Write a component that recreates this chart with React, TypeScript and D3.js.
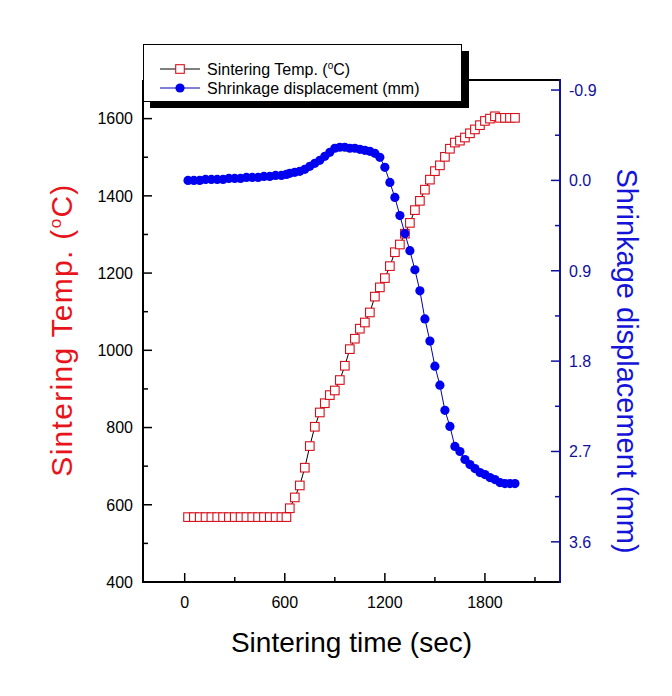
import React from "react";
import * as d3 from "d3";

// ---- data ----
const tempTime = [20, 55, 90, 125, 160, 195, 230, 265, 300, 335, 370, 405, 440, 475, 510, 545, 580, 610,
  630, 660, 690, 720, 750, 780, 810, 840, 870, 900, 930, 960, 990, 1020, 1050, 1080, 1110, 1140, 1170, 1200,
  1230, 1260, 1290, 1320, 1350, 1380, 1410, 1440, 1470, 1500, 1530, 1560, 1590, 1620, 1650, 1680, 1710, 1740,
  1770, 1800, 1830, 1860, 1890, 1920, 1950, 1980];
const tempValue = [568, 568, 568, 568, 568, 568, 568, 568, 568, 568, 568, 568, 568, 568, 568, 568, 568, 568,
  591, 619, 650, 696, 752, 802, 839, 863, 884, 896, 923, 960, 1003, 1030, 1056, 1072, 1098, 1139, 1163, 1187,
  1218, 1254, 1274, 1302, 1330, 1363, 1387, 1416, 1442, 1464, 1479, 1501, 1522, 1538, 1543, 1551, 1562, 1572,
  1583, 1594, 1600, 1606, 1602, 1602, 1602, 1602];

const shrinkTime = tempTime;
const shrinkValue = [0.0, 0.0, 0.0, -0.01, -0.01, -0.01, -0.01, -0.02, -0.02, -0.02, -0.03, -0.03, -0.03, -0.04, -0.04, -0.05, -0.05, -0.06,
  -0.07, -0.08, -0.09, -0.11, -0.14, -0.17, -0.2, -0.24, -0.28, -0.32, -0.33, -0.33, -0.32, -0.32, -0.31, -0.3, -0.29, -0.27, -0.23, -0.13,
  0.02, 0.17, 0.35, 0.53, 0.7, 0.89, 1.1, 1.38, 1.6, 1.85, 2.04, 2.29, 2.45, 2.65, 2.7, 2.78, 2.83, 2.87,
  2.91, 2.93, 2.96, 2.98, 3.01, 3.02, 3.02, 3.02];

const xMajor = [0, 600, 1200, 1800];
const xMinor = [300, 900, 1500, 2100];
const yLeftMajor = [400, 600, 800, 1000, 1200, 1400, 1600];
const yLeftMinor = [500, 700, 900, 1100, 1300, 1500];
const yRightMajor = [-0.9, 0.0, 0.9, 1.8, 2.7, 3.6];
const yRightMinor = [-0.45, 0.45, 1.35, 2.25, 3.15];

const FONT = "'Liberation Sans', Arial, sans-serif";

export default function App() {
  const left = 143, right = 560, top = 80, bottom = 582;
  const x = d3.scaleLinear().domain([-250, 2250]).range([left, right]);
  const yL = d3.scaleLinear().domain([400, 1700]).range([bottom, top]);
  const yR = d3.scaleLinear().domain([-1.0, 4.0]).range([top, bottom]);

  const tempPts = tempTime.map((t, i) => [x(t), yL(tempValue[i])] as [number, number]);
  const shrinkPts = shrinkTime.map((t, i) => [x(t), yR(shrinkValue[i])] as [number, number]);
  const line = d3.line();

  const axisBlue = "#10109a";
  const sq = 8.6;

  return (
    <svg width={672} height={696} style={{ position: "absolute", left: 0, top: 0, background: "#fff" }} fontFamily={FONT}>
      <rect x={0} y={0} width={672} height={696} fill="#fff" />
      {/* temperature series */}
      <path d={line(tempPts) || ""} fill="none" stroke="#000" strokeWidth={1} />
      {tempPts.map((p, i) => (
        <rect key={"t" + i} x={p[0] - sq / 2} y={p[1] - sq / 2} width={sq} height={sq} fill="#fff" stroke="#d8101c" strokeWidth={1.1} />
      ))}
      {/* shrinkage series */}
      <path d={line(shrinkPts) || ""} fill="none" stroke="#0000b0" strokeWidth={1} />
      {shrinkPts.map((p, i) => (
        <circle key={"s" + i} cx={p[0]} cy={p[1]} r={4.6} fill="#0000f0" />
      ))}

      {/* axes frame */}
      <line x1={left} x2={right} y1={top} y2={top} stroke="#000" strokeWidth={2} />
      <line x1={left} x2={right} y1={bottom} y2={bottom} stroke="#000" strokeWidth={2} />
      <line x1={left} x2={left} y1={top} y2={bottom + 1} stroke="#000" strokeWidth={2} />
      <line x1={right} x2={right} y1={top - 1} y2={bottom + 1} stroke={axisBlue} strokeWidth={2} />

      {/* bottom ticks */}
      {xMajor.map((v) => (
        <g key={"xm" + v}>
          <line x1={x(v)} x2={x(v)} y1={bottom} y2={bottom - 9} stroke="#000" strokeWidth={1.5} />
          <text x={x(v)} y={608} textAnchor="middle" fontSize={16} fill="#000">{v}</text>
        </g>
      ))}
      {xMinor.map((v) => (
        <line key={"xn" + v} x1={x(v)} x2={x(v)} y1={bottom} y2={bottom - 5} stroke="#000" strokeWidth={1.5} />
      ))}

      {/* left ticks */}
      {yLeftMajor.map((v) => (
        <g key={"lm" + v}>
          <line x1={left} x2={left + 9} y1={yL(v)} y2={yL(v)} stroke="#000" strokeWidth={1.5} />
          <text x={133} y={yL(v)} dy="0.36em" textAnchor="end" fontSize={16} fill="#000">{v}</text>
        </g>
      ))}
      {yLeftMinor.map((v) => (
        <line key={"ln" + v} x1={left} x2={left + 5} y1={yL(v)} y2={yL(v)} stroke="#000" strokeWidth={1.5} />
      ))}

      {/* right ticks */}
      {yRightMajor.map((v) => (
        <g key={"rm" + v}>
          <line x1={right} x2={right - 9} y1={yR(v)} y2={yR(v)} stroke={axisBlue} strokeWidth={1.5} />
          <text x={569} y={yR(v)} dy="0.36em" textAnchor="start" fontSize={16} fill={axisBlue}>{v.toFixed(1)}</text>
        </g>
      ))}
      {yRightMinor.map((v) => (
        <line key={"rn" + v} x1={right} x2={right - 5} y1={yR(v)} y2={yR(v)} stroke={axisBlue} strokeWidth={1.5} />
      ))}

      {/* axis titles */}
      <text x={(left + right) / 2} y={652} textAnchor="middle" fontSize={28} fill="#000">Sintering time (sec)</text>
      <text transform={`translate(61,330) rotate(-90)`} dy="0.35em" textAnchor="middle" fontSize={30} letterSpacing={1.3} fill="#e8141c">
        Sintering Temp. (<tspan dy={-11} fontSize={17}>o</tspan><tspan dy={11}>C)</tspan>
      </text>
      <text transform={`translate(627,361) rotate(90)`} dy="0.35em" textAnchor="middle" fontSize={29} fill="#1414d8">
        Shrinkage displacement (mm)
      </text>

      {/* legend */}
      <rect x={150} y={51} width={319} height={57} fill="#000" />
      <rect x={143.5} y={44.5} width={318} height={57} fill="#fff" stroke="#000" strokeWidth={1} />
      <line x1={160} x2={200} y1={69} y2={69} stroke="#000" strokeWidth={1} />
      <rect x={180 - sq / 2} y={69 - sq / 2} width={sq} height={sq} fill="#fff" stroke="#d8101c" strokeWidth={1.1} />
      <text x={207} y={69} dy="0.36em" fontSize={16} fill="#000">
        Sintering Temp. (<tspan dy={-6} fontSize={10}>o</tspan><tspan dy={6}>C)</tspan>
      </text>
      <line x1={160} x2={200} y1={88} y2={88} stroke="#0000b0" strokeWidth={1} />
      <circle cx={180} cy={88} r={4.6} fill="#0000f0" />
      <text x={207} y={88} dy="0.36em" fontSize={16} fill="#000">Shrinkage displacement (mm)</text>
    </svg>
  );
}
